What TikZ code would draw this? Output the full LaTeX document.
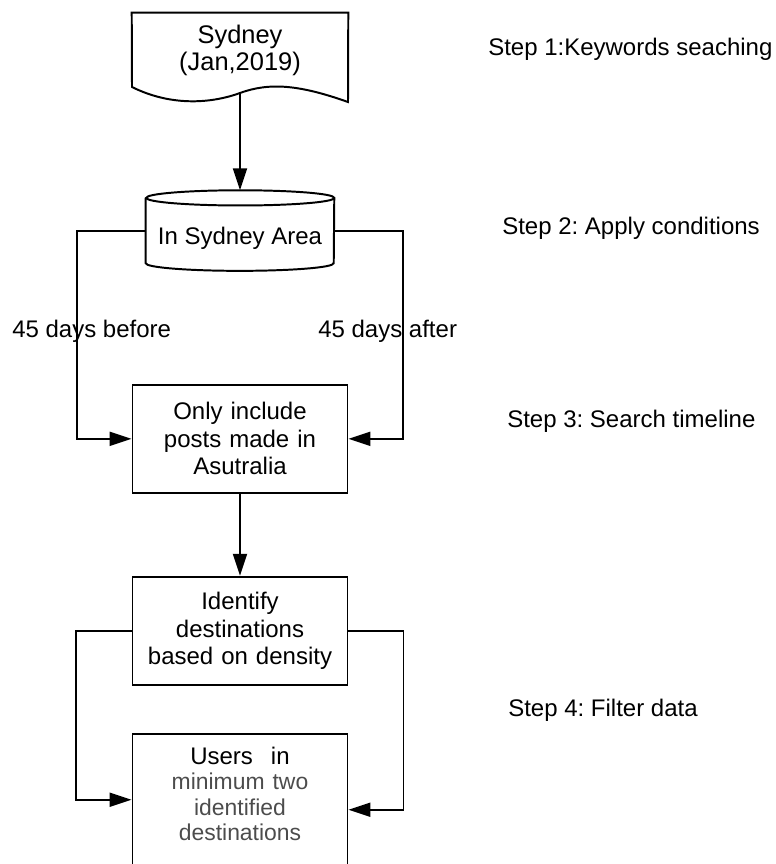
\documentclass[tikz,border=0pt]{standalone}
\usepackage{fontspec}
\setmainfont{Liberation Sans}
\usetikzlibrary{positioning,arrows.meta}
\frenchspacing

\tikzset{
  flowline/.style={line width=1.4pt, -{Triangle[length=0.55cm,width=0.35cm]}},
  flowbox/.style={draw, line width=1.4pt, minimum width=5.375cm, minimum height=2.7cm,
    text width=5.1cm, align=center, inner sep=0pt},
  steplabel/.style={anchor=west, inner sep=0pt},
}

\begin{document}
\begin{tikzpicture}[font=\fontsize{17.07pt}{19.5pt}\selectfont]
\path[use as bounding box, clip] (0,0) rectangle (19.375,-21.6);

% source document, wavy bottom edge
\node[minimum width=5.4cm, minimum height=1.88cm, inner sep=0pt, align=center,
  font=\fontsize{18.1pt}{19.5pt}\selectfont] (sydney) at (6,-1.265) {Sydney\\(Jan,2019)};
\draw[line width=1.4pt] (sydney.north west) -- (sydney.north east) -- (8.7,-2.55)
  .. controls (7.5,-2.125) and (6.75,-2.05) .. (6,-2.325)
  .. controls (5.25,-2.6) and (4.25,-2.65) .. (3.3,-2.175) -- cycle;
\coordinate (sydneybot) at (6,-2.325);

% database
\node[below=2.545cm of sydney, minimum width=4.7cm, minimum height=2cm, inner sep=0pt,
  text height=0.83cm, text depth=0.13cm] (area) {In Sydney Area};
\draw[line width=1.4pt] ([yshift=-0.19cm]area.north west) -- ([yshift=0.19cm]area.south west)
  arc[start angle=180, end angle=360, x radius=2.35cm, y radius=0.19cm]
  -- ([yshift=-0.19cm]area.north east)
  arc[start angle=0, end angle=360, x radius=2.35cm, y radius=0.19cm];

\node[flowbox, below=2.825cm of area] (only) {Only include\\posts made in\\Asutralia};
\node[flowbox, below=2.05cm of only] (ident) {Identify\\destinations\\based on density};
\node[flowbox, below=1.175cm of ident, minimum height=3.4cm, text depth=2.3cm,
  font=\fontsize{17.07pt}{18pt}\selectfont] (users)
  {Users\hspace{0.45cm}in\\{\color{black!70}\fontsize{16.3pt}{18pt}\selectfont minimum two\\identified\\destinations}};

% connectors
\draw[flowline] (sydneybot) -- (area);
\draw[flowline] (area.west) -- ++(-1.725,0) |- (only.west);
\draw[flowline] (area.east) -- ++(1.725,0) |- (only.east);
\draw[flowline] (only) -- (ident);
\draw[flowline] (ident.west) -- ++(-1.4,0) |- ([yshift=0.05cm]users.west);
\draw[flowline] (ident.east) -- ++(1.375,0) |- ([yshift=-0.2cm]users.east);

\node[steplabel] (before) at (0.3,-8.275) {45 days before};
\node[steplabel] (after) at (7.95,-8.275) {45 days after};

% step captions
\node[steplabel] (step1) at (12.2,-1.225) {Step 1:Keywords seaching};
\node[steplabel] (step2) at (12.55,-5.7) {Step 2: Apply conditions};
\node[steplabel] (step3) at (12.675,-10.525) {Step 3: Search timeline};
\node[steplabel] (step4) at (12.7,-17.75) {Step 4: Filter data};
\end{tikzpicture}
\end{document}
